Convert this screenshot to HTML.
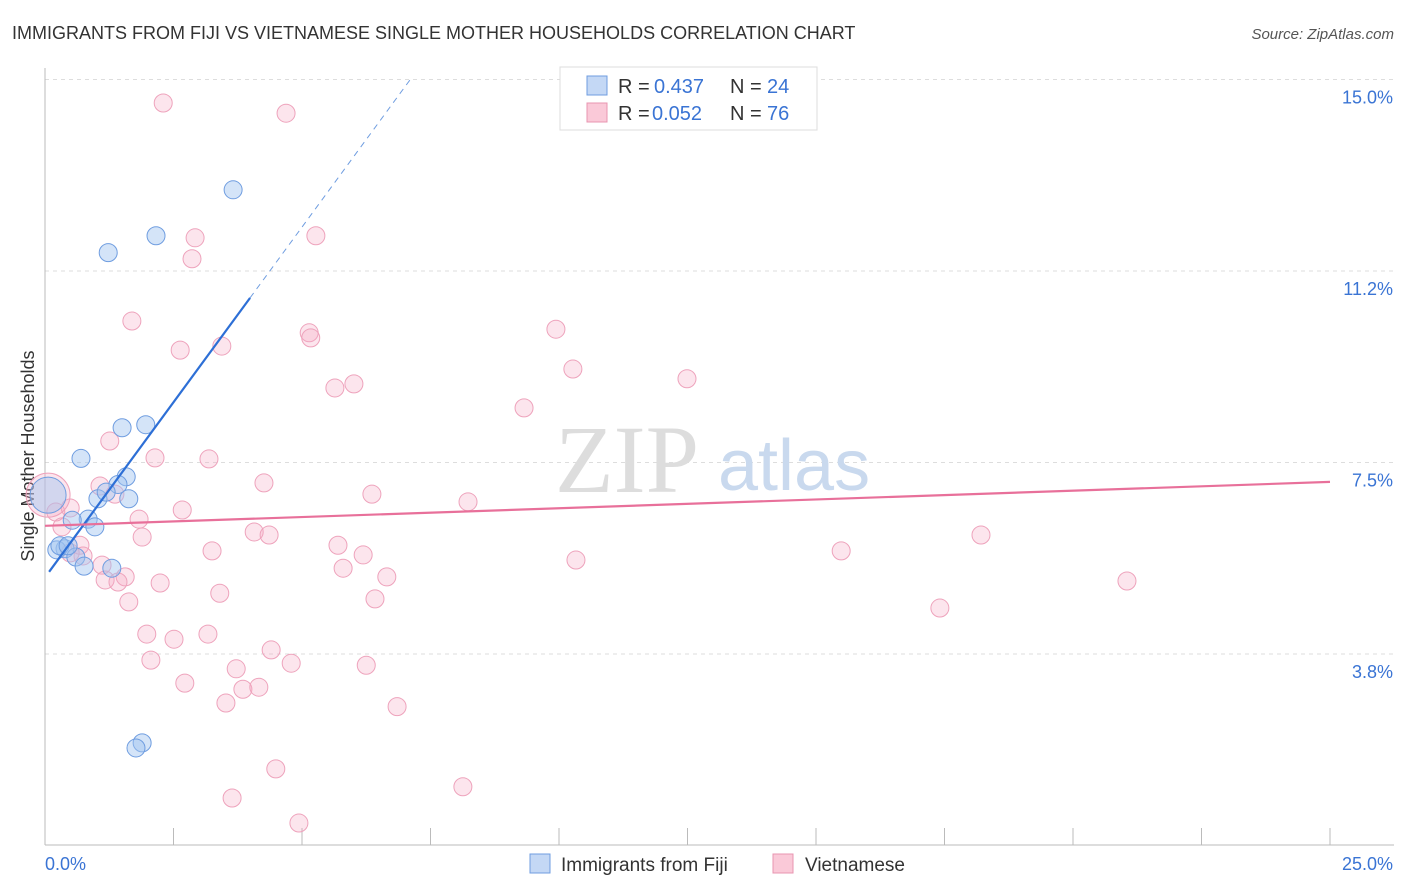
<!DOCTYPE html>
<html><head><meta charset="utf-8">
<style>
body{margin:0;background:#fff;font-family:"Liberation Sans",sans-serif;}
svg{display:block}
</style></head>
<body>
<svg id="chart" width="1406" height="892">
<text x="12" y="39" font-size="18" fill="#333">IMMIGRANTS FROM FIJI VS VIETNAMESE SINGLE MOTHER HOUSEHOLDS CORRELATION CHART</text>
<text x="1394" y="39" font-size="15" fill="#555" font-style="italic" text-anchor="end">Source: ZipAtlas.com</text>
<text x="0" y="0" transform="translate(34,456) rotate(-90)" font-size="18" fill="#333" text-anchor="middle">Single Mother Households</text>
<g id="grid"></g>
<text x="555" y="492" font-size="96" fill="#ddd" font-family="Liberation Serif,serif">ZIP</text>
<text x="718" y="490" font-size="72" fill="#c9d9ee">atlas</text>
<g id="pts"></g>
<g id="lines"></g>
<g>
<rect x="560" y="67" width="257" height="63" fill="#fff" stroke="#ddd"/>
<rect x="587" y="76" width="20" height="19" fill="#c4d8f5" stroke="#6f9de0"/>
<text y="93" font-size="20" fill="#333"><tspan x="618">R =</tspan><tspan x="654" fill="#3a74d4">0.437</tspan><tspan x="730">N =</tspan><tspan x="767" fill="#3a74d4">24</tspan></text>
<rect x="587" y="103" width="20" height="19" fill="#fac9d8" stroke="#e895b0"/>
<text y="120" font-size="20" fill="#333"><tspan x="618">R =</tspan><tspan x="652" fill="#3a74d4">0.052</tspan><tspan x="730">N =</tspan><tspan x="767" fill="#3a74d4">76</tspan></text>
</g>
<g>
<rect x="530" y="854" width="20" height="19" fill="#c4d8f5" stroke="#6f9de0"/>
<text x="561" y="871" font-size="19" fill="#333">Immigrants from Fiji</text>
<rect x="773" y="854" width="20" height="19" fill="#fac9d8" stroke="#e895b0"/>
<text x="805" y="871" font-size="19" fill="#333">Vietnamese</text>
</g>
</svg>
<script>
const xTickLabels=["0.0%","25.0%"];
const yTicks=[3.75,7.5,11.25,15];
const yTickLabels=["3.8%","7.5%","11.2%","15.0%"];
const fijiX=[3.66,2.16,1.23,1.50,1.96,0.70,1.58,1.42,1.03,1.63,1.19,0.84,0.53,0.97,0.06,0.39,0.23,0.60,1.30,0.76,1.89,1.77,0.29,0.45];
const fijiY=[12.84,11.94,11.61,8.18,8.24,7.58,7.22,7.07,6.79,6.79,6.92,6.39,6.37,6.24,6.86,5.81,5.79,5.65,5.43,5.47,2.01,1.91,5.87,5.87];
const vietX=[2.30,4.69,2.92,5.27,2.86,1.69,5.14,5.17,9.94,2.63,3.44,10.27,12.49,6.01,5.64,9.32,1.26,2.14,3.19,4.26,1.07,1.36,6.36,8.23,2.67,0.49,0.21,1.83,0.33,1.89,4.07,4.36,18.21,5.70,3.25,15.49,0.68,6.19,0.74,10.33,0.49,5.80,1.11,6.65,1.56,1.17,1.42,2.24,21.05,3.40,6.42,1.63,17.41,1.98,2.51,3.17,4.40,2.06,4.79,6.25,3.72,2.72,3.85,4.16,3.52,6.85,4.49,8.13,3.64,4.94,0.06];
const vietY=[14.54,14.34,11.90,11.94,11.49,10.27,10.04,9.94,10.11,9.70,9.78,9.33,9.14,9.04,8.96,8.57,7.92,7.59,7.57,7.10,7.04,6.88,6.88,6.73,6.57,6.61,6.53,6.39,6.24,6.04,6.14,6.08,6.08,5.88,5.77,5.77,5.88,5.69,5.67,5.59,5.73,5.43,5.49,5.26,5.26,5.20,5.16,5.14,5.18,4.94,4.83,4.77,4.65,4.14,4.04,4.14,3.83,3.63,3.57,3.53,3.46,3.18,3.06,3.10,2.79,2.72,1.50,1.15,0.93,0.44,6.86];
const fijiFit=[5.25,1.372];
const vietFit=[6.26,0.0344];
const NS="http://www.w3.org/2000/svg";
const X=v=>45+v/25*1285;
const Y=v=>845.5-v/3.75*191.5;
function mk(t,a,p){const e=document.createElementNS(NS,t);for(const k in a)e.setAttribute(k,a[k]);p.appendChild(e);return e;}
const grid=document.getElementById('grid');
yTicks.forEach((t,i)=>{
 const l=mk('line',{x1:45,x2:1394,y1:Y(t),y2:Y(t),stroke:'#ddd','stroke-dasharray':'4,4'},grid);
 
 
 const tx=mk('text',{x:1393,y:Y(t)+24,'font-size':18,fill:'#3a74d4','text-anchor':'end'},grid);
 tx.textContent=yTickLabels[i];
 
 
});
const ax=mk('line',{x1:45,x2:45,y1:68,y2:845,stroke:'#bbb'},grid);


const bx=mk('line',{x1:45,x2:1394,y1:845,y2:845,stroke:'#bbb'},grid);


for(let i=1;i<=10;i++){const t=mk('line',{x1:X(i*2.5),x2:X(i*2.5),y1:828,y2:845,stroke:'#bbb'},grid);
 
 }
[[0,'start',45],[1,'end',1393]].forEach(([i,a,x])=>{const t=mk('text',{x:x,y:870,'font-size':18,fill:'#3a74d4','text-anchor':a},grid);t.textContent=xTickLabels[i];
 
 });
const pts=document.getElementById('pts');
vietX.forEach((v,i)=>{const r=i==vietX.length-1?22:9;
 const c=mk('circle',{cx:X(v),cy:Y(vietY[i]),r:r,fill:'rgba(246,170,195,0.3)',stroke:'#eea3bc','stroke-width':1},pts);
 
 });
fijiX.forEach((v,i)=>{const r=i==14?18:9;
 const c=mk('circle',{cx:X(v),cy:Y(fijiY[i]),r:r,fill:'rgba(160,195,240,0.45)',stroke:'#6f9de0','stroke-width':1},pts);
 
 });
const lines=document.getElementById('lines');
const f=x=>fijiFit[0]+fijiFit[1]*x;
const l1=mk('line',{x1:X(0.08),y1:Y(f(0.08)),x2:X(3.99),y2:Y(f(3.99)),stroke:'#2d6fd6','stroke-width':2.2},lines);


const l2=mk('line',{x1:X(3.99),y1:Y(f(3.99)),x2:X(7.13),y2:Y(f(7.13)),stroke:'#6f9de0','stroke-width':1,'stroke-dasharray':'6,5'},lines);


const g=x=>vietFit[0]+vietFit[1]*x;
const l3=mk('line',{x1:X(0),y1:Y(g(0)),x2:X(25),y2:Y(g(25)),stroke:'#e8709a','stroke-width':2.2},lines);


</script>
</body></html>
